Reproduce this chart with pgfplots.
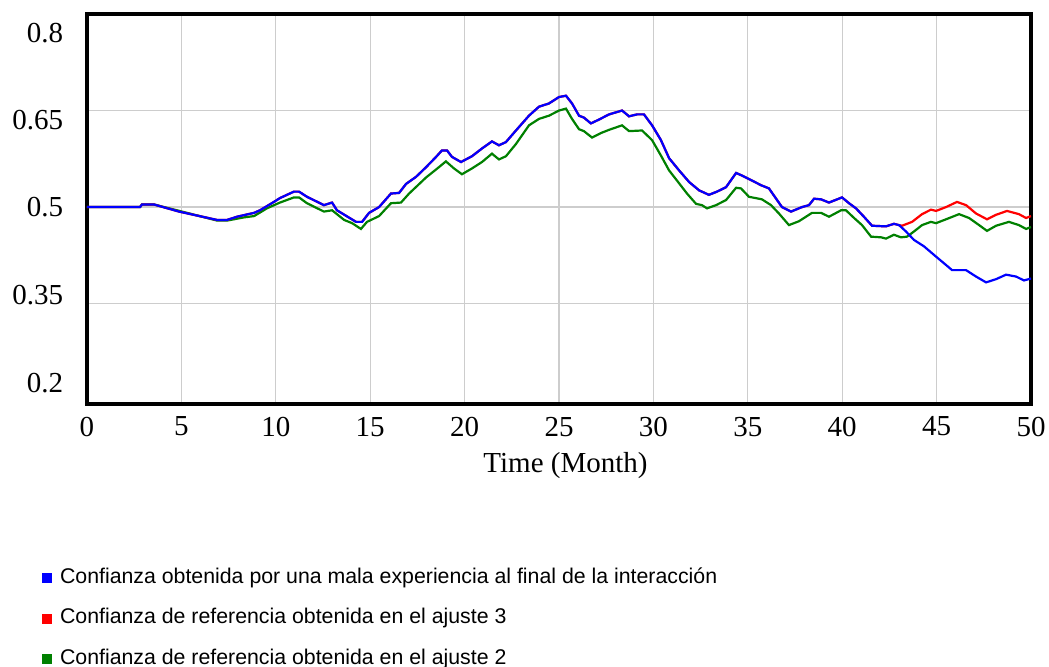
\documentclass[border=0pt]{standalone}
\usepackage{fontspec}
\setmainfont{Liberation Serif}
\newfontfamily\arial{Liberation Sans}
\usepackage{pgfplots}
\pgfplotsset{compat=1.18}
\usepackage{pgfplotstable}
\definecolor{vgreen}{RGB}{0,128,0}
\definecolor{vgrid}{RGB}{205,205,205}

\pgfplotstableread{
x y
0 0.5
2.81 0.5
2.91 0.504
3.55 0.504
4.87 0.493
6.89 0.480
7.42 0.480
7.94 0.485
8.85 0.491
9.16 0.495
9.90 0.508
10.22 0.514
10.96 0.524
11.23 0.524
11.65 0.516
12.55 0.503
12.98 0.507
13.24 0.495
14.25 0.477
14.57 0.477
14.94 0.491
15.47 0.500
16.10 0.521
16.53 0.522
16.90 0.536
17.43 0.547
17.96 0.562
18.49 0.578
18.80 0.588
19.07 0.588
19.33 0.578
19.81 0.570
20.39 0.579
20.92 0.591
21.45 0.602
21.82 0.596
22.19 0.601
22.72 0.619
23.41 0.642
23.94 0.656
24.47 0.661
25.00 0.671
25.37 0.673
25.69 0.661
26.06 0.642
26.32 0.639
26.69 0.630
27.12 0.636
27.65 0.644
28.34 0.650
28.71 0.641
29.13 0.644
29.50 0.644
29.93 0.627
30.40 0.604
30.83 0.576
31.36 0.557
31.89 0.539
32.42 0.526
32.94 0.519
33.37 0.524
33.85 0.531
34.38 0.553
34.69 0.549
35.17 0.542
35.70 0.534
36.12 0.529
36.81 0.500
37.29 0.493
37.87 0.500
38.24 0.503
38.51 0.513
38.88 0.512
39.30 0.507
39.99 0.515
40.36 0.506
40.73 0.498
41.15 0.485
41.58 0.471
42.32 0.470
42.74 0.474
43.01 0.472
43.38 0.462
43.80 0.449
44.33 0.439
44.97 0.423
45.50 0.410
45.82 0.402
46.56 0.402
47.09 0.392
47.62 0.383
48.15 0.388
48.68 0.395
49.21 0.392
49.63 0.386
50.00 0.389
}\blueT

\pgfplotstableread{
x y
0 0.5
2.81 0.5
2.91 0.504
3.55 0.504
4.87 0.493
6.89 0.480
7.42 0.480
7.94 0.485
8.85 0.491
9.16 0.495
9.90 0.508
10.22 0.514
10.96 0.524
11.23 0.524
11.65 0.516
12.55 0.503
12.98 0.507
13.24 0.495
14.25 0.477
14.57 0.477
14.94 0.491
15.47 0.500
16.10 0.521
16.53 0.522
16.90 0.536
17.43 0.547
17.96 0.562
18.49 0.578
18.80 0.588
19.07 0.588
19.33 0.578
19.81 0.570
20.39 0.579
20.92 0.591
21.45 0.602
21.82 0.596
22.19 0.601
22.72 0.619
23.41 0.642
23.94 0.656
24.47 0.661
25.00 0.671
25.37 0.673
25.69 0.661
26.06 0.642
26.32 0.639
26.69 0.630
27.12 0.636
27.65 0.644
28.34 0.650
28.71 0.641
29.13 0.644
29.50 0.644
29.93 0.627
30.40 0.604
30.83 0.576
31.36 0.557
31.89 0.539
32.42 0.526
32.94 0.519
33.37 0.524
33.85 0.531
34.38 0.553
34.69 0.549
35.17 0.542
35.70 0.534
36.12 0.529
36.81 0.500
37.29 0.493
37.87 0.500
38.24 0.503
38.51 0.513
38.88 0.512
39.30 0.507
39.99 0.515
40.36 0.506
40.73 0.498
41.15 0.485
41.58 0.471
42.32 0.470
42.74 0.474
43.01 0.472
43.17 0.471
43.70 0.477
44.23 0.489
44.70 0.496
44.97 0.494
45.50 0.500
46.08 0.508
46.56 0.503
47.09 0.490
47.67 0.481
48.15 0.488
48.73 0.494
49.36 0.489
49.74 0.483
50.00 0.486
}\redT

\pgfplotstableread{
x y
0 0.5
2.81 0.5
2.91 0.504
3.55 0.504
5.30 0.491
6.89 0.479
7.42 0.479
8.32 0.484
8.85 0.486
9.53 0.498
10.22 0.507
10.96 0.515
11.23 0.515
11.65 0.506
12.55 0.493
12.98 0.495
13.62 0.480
14.04 0.475
14.51 0.466
14.83 0.477
15.47 0.486
16.10 0.506
16.63 0.507
17.06 0.521
17.96 0.546
18.64 0.562
19.01 0.571
19.44 0.560
19.86 0.551
20.39 0.560
20.92 0.570
21.45 0.583
21.82 0.574
22.19 0.579
22.72 0.598
23.41 0.627
23.94 0.637
24.47 0.642
25.00 0.650
25.37 0.653
25.69 0.637
26.06 0.621
26.32 0.618
26.75 0.608
27.22 0.615
27.65 0.620
28.34 0.627
28.71 0.618
29.40 0.619
29.93 0.604
30.40 0.580
30.83 0.557
31.36 0.537
31.78 0.521
32.26 0.505
32.57 0.503
32.84 0.498
33.32 0.503
33.85 0.511
34.38 0.530
34.64 0.529
35.06 0.516
35.75 0.512
36.23 0.503
36.65 0.490
37.18 0.472
37.71 0.478
38.40 0.491
38.88 0.491
39.30 0.485
39.94 0.495
40.20 0.495
40.63 0.483
41.05 0.472
41.53 0.454
42.06 0.453
42.32 0.451
42.74 0.457
43.11 0.453
43.43 0.454
43.80 0.462
44.23 0.472
44.70 0.477
44.97 0.475
45.50 0.481
46.19 0.489
46.72 0.483
47.25 0.472
47.67 0.463
48.15 0.471
48.83 0.477
49.36 0.472
49.74 0.466
50.00 0.469
}\greenT

\begin{document}
\begin{tikzpicture}
\useasboundingbox (-87bp,-263bp) rectangle (962bp,404bp);
\begin{axis}[
  at={(0bp,0bp)}, anchor=south west,
  scale only axis,
  width=944bp, height=390bp,
  xmin=0, xmax=50, ymin=0.194, ymax=0.8,
  xtick={0,5,...,50},
  ytick={0.35,0.5,0.65},
  yticklabels={},
  extra y ticks={0.771,0.635,0.5,0.363,0.226},
  extra y tick labels={0.8,0.65,0.5,0.35,0.2},
  extra y tick style={ymajorgrids=false},
  major tick length=0pt,
  xmajorgrids, ymajorgrids,
  grid style={vgrid, line width=1.2bp},
  axis line style={black, line width=4bp},
  /pgf/number format/assume math mode=true,
  tick label style={font=\fontsize{29bp}{30bp}\selectfont, inner sep=0pt},
  yticklabel style={anchor=east, xshift=-23.7bp},
  xticklabel style={anchor=north, yshift=-12.7bp},
  xlabel={Time (Month)},
  xlabel style={font=\fontsize{29bp}{30bp}\selectfont, inner sep=0pt, anchor=base, at={(axis description cs:0.5,0)}, yshift=-68bp, xshift=6.5bp},
  sq/.style={legend image code/.code={\fill[#1] (0bp,-4.5bp) rectangle (9bp,4.5bp);}},
  legend style={at={(axis description cs:-0.048,-0.4187)}, anchor=north west, draw=none, fill=none, inner sep=0pt, outer sep=0pt,
    row sep=19.5bp, font=\arial\fontsize{21.3bp}{24bp}\selectfont,
    nodes={inner sep=0pt, text height=16bp, text depth=5bp},
    /tikz/every odd column/.append style={column sep=9bp}},
  legend cell align=left,
]
\addlegendimage{sq=blue}
\addlegendentry{Confianza obtenida por una mala experiencia al final de la interacción}
\addlegendimage{sq=red}
\addlegendentry{Confianza de referencia obtenida en el ajuste 3}
\addlegendimage{sq=vgreen}
\addlegendentry{Confianza de referencia obtenida en el ajuste 2}
\addplot[vgreen, line width=2.2bp, forget plot] table {\greenT};
\addplot[red, line width=2.2bp, forget plot] table {\redT};
\addplot[blue, line width=2.2bp, forget plot] table {\blueT};
\end{axis}
\end{tikzpicture}
\end{document}
